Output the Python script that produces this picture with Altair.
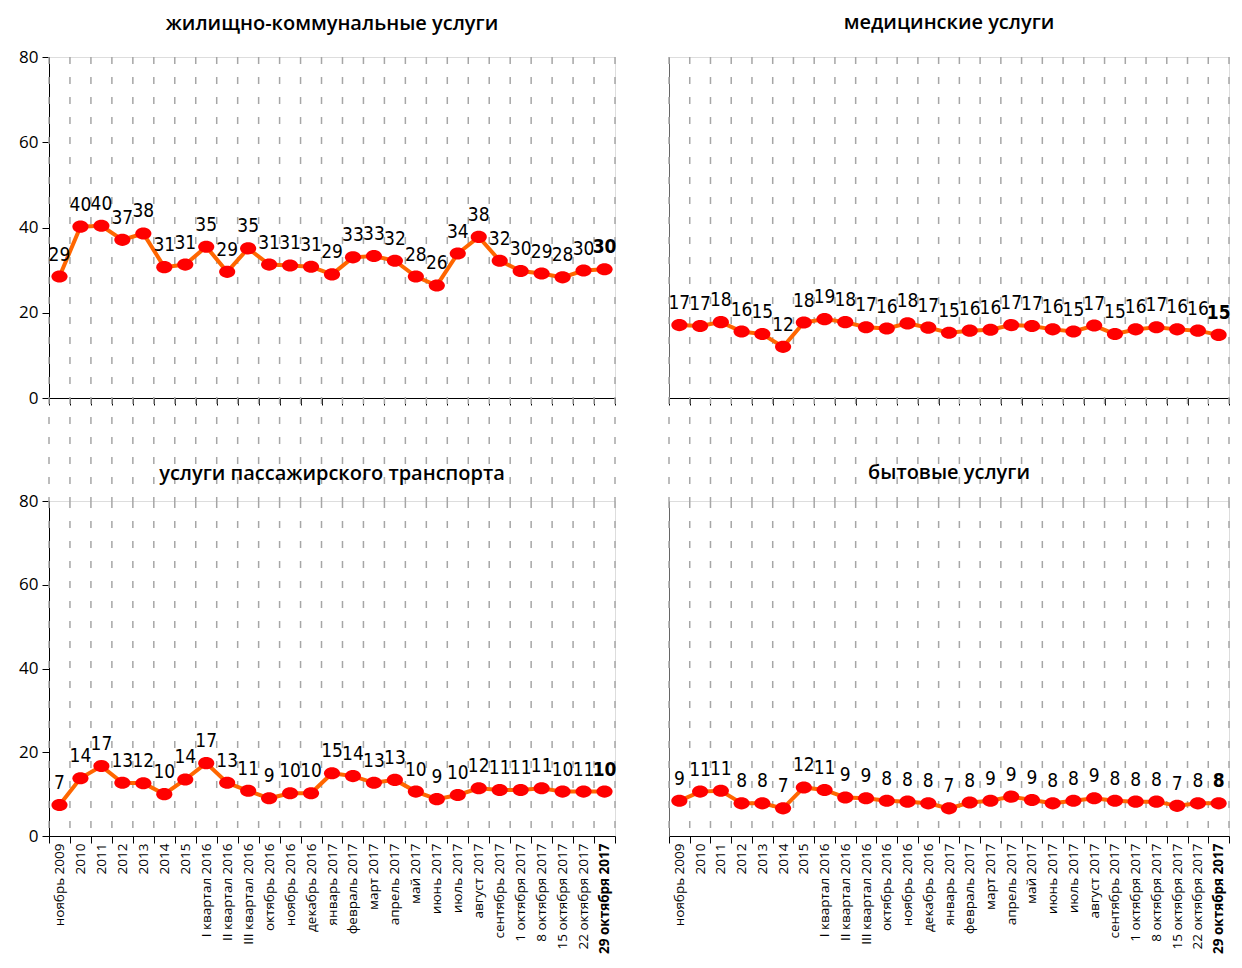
import altair as alt
import pandas as pd

categories = ["ноябрь 2009", "2010", "2011", "2012", "2013", "2014", "2015",
              "I квартал 2016", "II квартал 2016", "III квартал 2016",
              "октябрь 2016", "ноябрь 2016", "декабрь 2016", "январь 2017",
              "февраль 2017", "март 2017", "апрель 2017", "май 2017",
              "июнь 2017", "июль 2017", "август 2017", "сентябрь 2017",
              "1 октября 2017", "8 октября 2017", "15 октября 2017",
              "22 октября 2017", "29 октября 2017"]

titles = ["жилищно-коммунальные услуги", "медицинские услуги",
          "услуги пассажирского транспорта", "бытовые услуги"]

housing_values = [28.5, 40.2, 40.4, 37.1, 38.6, 30.7, 31.3, 35.5, 29.6, 35.1, 31.3, 31.1, 30.8, 29.0,
                  33.0, 33.3, 32.2, 28.5, 26.4, 33.9, 37.8, 32.2, 29.8, 29.2, 28.3, 29.9, 30.2]
housing_labels = [29, 40, 40, 37, 38, 31, 31, 35, 29, 35, 31, 31, 31, 29,
                  33, 33, 32, 28, 26, 34, 38, 32, 30, 29, 28, 30, 30]

medical_values = [17.1, 16.9, 17.8, 15.6, 15.0, 12.0, 17.7, 18.5, 17.8, 16.6, 16.3, 17.5, 16.5, 15.3,
                  15.8, 16.0, 17.1, 16.9, 16.1, 15.6, 17.0, 15.0, 16.1, 16.6, 16.1, 15.8, 14.8]
medical_labels = [17, 17, 18, 16, 15, 12, 18, 19, 18, 17, 16, 18, 17, 15,
                  16, 16, 17, 17, 16, 15, 17, 15, 16, 17, 16, 16, 15]

transport_values = [7.4, 13.8, 16.7, 12.7, 12.6, 10.0, 13.5, 17.4, 12.7, 10.8, 9.0, 10.2, 10.2, 15.0,
                    14.3, 12.7, 13.4, 10.6, 8.8, 9.8, 11.4, 11.0, 11.0, 11.4, 10.6, 10.6, 10.6]
transport_labels = [7, 14, 17, 13, 12, 10, 14, 17, 13, 11, 9, 10, 10, 15,
                    14, 13, 13, 10, 9, 10, 12, 11, 11, 11, 10, 11, 10]

household_values = [8.4, 10.6, 10.8, 7.8, 7.8, 6.6, 11.6, 11.0, 9.2, 9.0, 8.4, 8.2, 7.8, 6.6,
                    8.0, 8.4, 9.4, 8.6, 7.8, 8.4, 9.0, 8.4, 8.2, 8.2, 7.2, 7.8, 7.8]
household_labels = [9, 11, 11, 8, 8, 7, 12, 11, 9, 9, 8, 8, 8, 7,
                    8, 9, 9, 9, 8, 8, 9, 8, 8, 8, 7, 8, 8]

y_ticks = [0, 20, 40, 60, 80]

N = len(categories)
LAST = categories[-1]
NARROW = "Liberation Sans Narrow, DejaVu Sans Condensed, Liberation Sans, sans-serif"
REG = "Open Sans, Noto Sans, sans-serif"
ELLIPSE = "M -1 0 A 1 0.75 0 1 0 1 0 A 1 0.75 0 1 0 -1 0 Z"


def panel(title, values, labels, w, h, left, bottom, ext, toff):
    df = pd.DataFrame({"cat": categories, "v": values,
                       "lab": [str(v) for v in labels], "i": list(range(N))})
    xs = alt.Scale(type="band", domain=categories, paddingInner=0, paddingOuter=0)
    xaxis = alt.Axis(tickBand="extent", ticks=True, tickSize=7, tickColor="#000",
                     domainColor="#000", domainWidth=1, labels=bottom, labelAngle=-90,
                     labelFont=REG, labelFontSize=13.5, labelColor="#000", labelPadding=0,
                     labelFontWeight={"condition": {"test": f"datum.value == '{LAST}'", "value": "bold"},
                                      "value": "normal"},
                     labelOverlap=False, grid=False, title=None)

    def xe(bp):
        return alt.X("cat:N", scale=xs, sort=categories, bandPosition=bp, axis=xaxis)

    if left:
        yaxis = alt.Axis(values=y_ticks, grid=False, tickSize=7, tickColor="#000",
                         domainColor="#000", labelFont=REG, labelFontSize=17,
                         labelColor="#000", labelPadding=4, title=None)
    else:
        yaxis = alt.Axis(values=y_ticks, grid=False, ticks=False, labels=False,
                         domainColor="#666", title=None)
    ye = alt.Y("v:Q", scale=alt.Scale(domain=[0, 80], nice=False, zero=True), axis=yaxis)

    base = alt.Chart(df)
    rule_style = dict(color="#A6A6A6", strokeDash=[7, 13], strokeWidth=1.5, clip=False)
    g1 = base.mark_rule(**rule_style).encode(x=xe(0), y=alt.value(0), y2=alt.value(h + ext))
    g2 = base.transform_filter(alt.datum.i == N - 1).mark_rule(**rule_style).encode(
        x=xe(1), y=alt.value(0), y2=alt.value(h + ext))
    line = base.mark_line(color="#FF6600", strokeWidth=4).encode(x=xe(0.5), y=ye)
    pts = base.mark_point(shape=ELLIPSE, filled=True, color="#FF0000", size=260,
                          opacity=1).encode(x=xe(0.5), y=ye)
    t1 = base.transform_filter(alt.datum.i < N - 1).mark_text(
        font=NARROW, fontSize=19, dy=-22, color="#000").encode(x=xe(0.5), y=ye, text="lab:N")
    t2 = base.transform_filter(alt.datum.i == N - 1).mark_text(
        font=NARROW, fontSize=19, dy=-22, color="#000", fontWeight="bold").encode(
        x=xe(0.5), y=ye, text="lab:N")
    return alt.layer(g1, g2, line, pts, t1, t2).properties(
        width=w, height=h,
        title=alt.Title(title, font=REG, fontSize=20, fontWeight=600, color="#000",
                        anchor="middle", offset=toff, frame="group"))


A = panel(titles[0], housing_values, housing_labels, 566, 341, True, False, 103, 14)
B = panel(titles[1], medical_values, medical_labels, 560, 341, False, False, 103, 23)
C = panel(titles[2], transport_values, transport_labels, 566, 335, True, True, 0, 8)
D = panel(titles[3], household_values, household_labels, 560, 335, False, True, 0, 17)

chart = alt.concat(A, B, C, D, columns=2, spacing={"row": 103, "column": 54},
                   bounds="flush", align="each").properties(
    padding={"left": 10, "top": 4, "right": 0, "bottom": 0}
).configure_view(stroke=None).configure(background="white")

chart.save("out.html", embed_options={"renderer": "svg", "actions": False})
